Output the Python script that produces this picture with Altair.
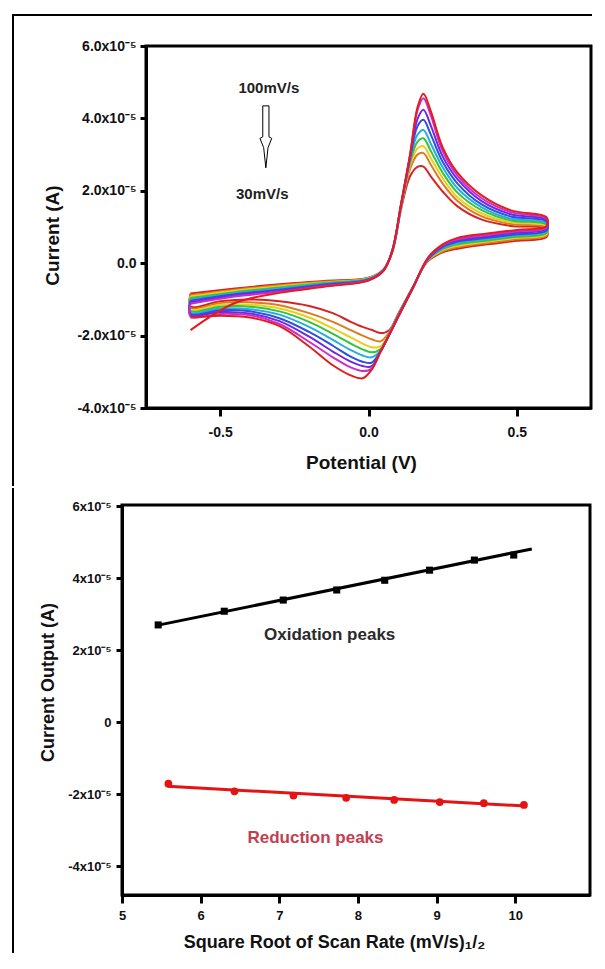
import altair as alt
import pandas as pd

FONT = "Liberation Sans"

# ---------------- Top panel: cyclic voltammograms (current in 1e-5 A) ----------------
CURVE_NAMES = ["c1", "c2", "c3", "c4", "c5", "c6", "c7", "c8", "c9"]
CURVE_COLORS = ["#d42424", "#e07a1e", "#e8cf1a", "#34c43a", "#22aee0",
                "#2c4fe4", "#6c2ade", "#cc2ccc", "#e41c1c"]

ANODIC_POTENTIAL = [-0.6, -0.45, -0.3, -0.15, 0.0, 0.05, 0.08, 0.11, 0.14, 0.165,
                    0.185, 0.21, 0.25, 0.30, 0.38, 0.48, 0.60]
CATHODIC_POTENTIAL = [0.6, 0.5, 0.4, 0.3, 0.25, 0.2, 0.15, 0.1, 0.07, 0.04, 0.01,
                      -0.02, -0.06, -0.12, -0.2, -0.3, -0.4, -0.5, -0.6]

ANODIC_C1 = [-0.84, -0.70, -0.58, -0.49, -0.40, -0.18, 0.30, 1.50, 2.40, 2.66, 2.67, 2.40, 1.98, 1.57, 1.21, 1.03, 0.95]
ANODIC_C2 = [-0.88, -0.73, -0.61, -0.51, -0.41, -0.18, 0.31, 1.55, 2.60, 3.00, 3.04, 2.72, 2.20, 1.72, 1.30, 1.08, 0.99]
ANODIC_C3 = [-0.92, -0.76, -0.64, -0.53, -0.42, -0.18, 0.32, 1.57, 2.70, 3.17, 3.23, 2.90, 2.35, 1.82, 1.38, 1.13, 1.03]
ANODIC_C4 = [-0.96, -0.80, -0.67, -0.55, -0.43, -0.19, 0.32, 1.59, 2.78, 3.35, 3.45, 3.10, 2.50, 1.95, 1.47, 1.18, 1.07]
ANODIC_C5 = [-1.00, -0.83, -0.70, -0.57, -0.44, -0.19, 0.33, 1.60, 2.85, 3.55, 3.68, 3.30, 2.65, 2.07, 1.55, 1.23, 1.11]
ANODIC_C6 = [-1.04, -0.86, -0.73, -0.59, -0.45, -0.20, 0.33, 1.62, 2.90, 3.78, 3.96, 3.55, 2.80, 2.20, 1.63, 1.29, 1.15]
ANODIC_C7 = [-1.08, -0.89, -0.76, -0.61, -0.46, -0.20, 0.34, 1.63, 2.95, 3.98, 4.24, 3.80, 2.95, 2.32, 1.72, 1.35, 1.19]
ANODIC_C8 = [-1.12, -0.92, -0.79, -0.63, -0.47, -0.21, 0.34, 1.64, 2.98, 4.22, 4.56, 4.08, 3.10, 2.42, 1.80, 1.41, 1.23]
ANODIC_C9 = [-1.85, -1.10, -0.82, -0.65, -0.48, -0.22, 0.35, 1.65, 3.00, 4.30, 4.68, 4.20, 3.20, 2.50, 1.88, 1.46, 1.27]

CATHODIC_C1 = [0.72, 0.62, 0.52, 0.40, 0.30, 0.05, -0.65, -1.40, -1.85, -1.93, -1.84, -1.76, -1.62, -1.38, -1.18, -1.05, -1.00, -1.05, -1.20]
CATHODIC_C2 = [0.76, 0.66, 0.56, 0.44, 0.33, 0.07, -0.66, -1.42, -1.90, -2.16, -2.10, -2.00, -1.85, -1.62, -1.38, -1.16, -1.08, -1.10, -1.24]
CATHODIC_C3 = [0.80, 0.70, 0.60, 0.48, 0.36, 0.08, -0.66, -1.43, -1.93, -2.30, -2.32, -2.22, -2.05, -1.80, -1.50, -1.25, -1.15, -1.15, -1.28]
CATHODIC_C4 = [0.83, 0.73, 0.63, 0.52, 0.39, 0.09, -0.66, -1.44, -1.95, -2.38, -2.46, -2.38, -2.22, -1.95, -1.62, -1.33, -1.20, -1.20, -1.32]
CATHODIC_C5 = [0.87, 0.77, 0.67, 0.56, 0.42, 0.10, -0.67, -1.45, -1.96, -2.42, -2.60, -2.55, -2.40, -2.12, -1.76, -1.42, -1.27, -1.25, -1.36]
CATHODIC_C6 = [0.90, 0.80, 0.70, 0.60, 0.45, 0.11, -0.67, -1.46, -1.97, -2.44, -2.75, -2.72, -2.58, -2.28, -1.90, -1.52, -1.33, -1.30, -1.40]
CATHODIC_C7 = [0.94, 0.84, 0.74, 0.63, 0.47, 0.12, -0.67, -1.47, -1.97, -2.44, -2.85, -2.84, -2.72, -2.44, -2.03, -1.60, -1.39, -1.35, -1.44]
CATHODIC_C8 = [0.98, 0.88, 0.78, 0.66, 0.50, 0.13, -0.68, -1.48, -1.98, -2.45, -2.92, -2.98, -2.88, -2.60, -2.17, -1.68, -1.44, -1.40, -1.48]
CATHODIC_C9 = [1.02, 0.92, 0.82, 0.70, 0.52, 0.15, -0.68, -1.49, -1.98, -2.46, -2.95, -3.18, -3.10, -2.82, -2.30, -1.74, -1.50, -1.45, -1.50]

CLOSED_LOOP = [True, True, True, True, True, True, True, True, False]

TOP_X_DOMAIN = [-0.75, 0.75]
TOP_Y_DOMAIN = [-4, 6]
TOP_X_TICKS = [-0.5, 0.0, 0.5]
TOP_X_LABELS = ["-0.5", "0.0", "0.5"]
TOP_Y_TICKS = [-4, -2, 0, 2, 4, 6]
TOP_Y_LABELS = ["-4.0x10\u207b\u2075", "-2.0x10\u207b\u2075", "0.0",
                "2.0x10\u207b\u2075", "4.0x10\u207b\u2075", "6.0x10\u207b\u2075"]

SCAN_TEXT = ["100mV/s", "30mV/s"]
SCAN_TEXT_X = [-0.336, -0.358]
SCAN_TEXT_Y = [4.85, 1.91]

# ---------------- Bottom panel: peak current vs sqrt(scan rate) ----------------
OX_X = [5.46, 6.30, 7.05, 7.73, 8.34, 8.91, 9.48, 9.98]
OX_Y = [2.70, 3.08, 3.39, 3.67, 3.94, 4.22, 4.50, 4.64]
RED_X = [5.59, 6.43, 7.18, 7.85, 8.46, 9.04, 9.60, 10.11]
RED_Y = [-1.71, -1.92, -2.04, -2.10, -2.16, -2.22, -2.25, -2.30]
OX_FIT_X = [5.43, 10.21]
OX_FIT_Y = [2.68, 4.81]
RED_FIT_X = [5.58, 10.13]
RED_FIT_Y = [-1.78, -2.33]

BOT_X_DOMAIN = [5, 10.95]
BOT_Y_DOMAIN = [-4.8, 6.03]
BOT_X_TICKS = [5, 6, 7, 8, 9, 10]
BOT_X_LABELS = ["5", "6", "7", "8", "9", "10"]
BOT_Y_TICKS = [-4, -2, 0, 2, 4, 6]
BOT_Y_LABELS = ["-4x10\u207b\u2075", "-2x10\u207b\u2075", "0",
                "2x10\u207b\u2075", "4x10\u207b\u2075", "6x10\u207b\u2075"]

PEAK_TEXT = ["Oxidation peaks", "Reduction peaks"]
PEAK_TEXT_X = [7.64, 7.46]
PEAK_TEXT_Y = [2.42, -3.22]
PEAK_TEXT_COLOR = ["#2a2a2a", "#c24052"]


def label_expr(values, labels):
    parts = [f"datum.value == {v} ? '{l}'" for v, l in zip(values, labels)]
    return " : ".join(parts) + " : ''"


def axis(values, labels, title, tick_size, label_pad, title_pad, label_size,
         title_size, offset=0, **extra):
    return alt.Axis(
        values=values, labelExpr=label_expr(values, labels), title=title,
        grid=False, domainColor="black", domainWidth=3, tickColor="black",
        tickWidth=3, tickSize=tick_size, labelPadding=label_pad, offset=offset,
        labelFont=FONT, labelFontSize=label_size, labelFontWeight="bold",
        labelColor="#111111", labelFlush=False, labelOverlap=False,
        titleFont=FONT, titleFontSize=title_size, titleFontWeight="bold",
        titleColor="#111111", titlePadding=title_pad, **extra)


def frame_rule(**enc):
    return alt.Chart(pd.DataFrame({"k": [0]})).mark_rule(
        color="black", strokeWidth=2).encode(**enc)


# build CV table
anodic = [ANODIC_C1, ANODIC_C2, ANODIC_C3, ANODIC_C4, ANODIC_C5, ANODIC_C6, ANODIC_C7, ANODIC_C8, ANODIC_C9]
cathodic = [CATHODIC_C1, CATHODIC_C2, CATHODIC_C3, CATHODIC_C4, CATHODIC_C5, CATHODIC_C6, CATHODIC_C7, CATHODIC_C8, CATHODIC_C9]
rows = []
for name, a, c, closed in zip(CURVE_NAMES, anodic, cathodic, CLOSED_LOOP):
    pts = list(zip(ANODIC_POTENTIAL, a)) + list(zip(CATHODIC_POTENTIAL, c))
    if closed:
        pts.append(pts[0])
    for i, (p, cur) in enumerate(pts):
        rows.append({"curve": name, "step": i, "potential": p, "current": cur})
cv_df = pd.DataFrame(rows)

# ---------------- top chart ----------------
top_x = alt.X("potential:Q", scale=alt.Scale(domain=TOP_X_DOMAIN, nice=False, zero=False),
              axis=axis(TOP_X_TICKS, TOP_X_LABELS, "Potential (V)", 8, 9, 14, 14, 19, titleX=215))
top_y = alt.Y("current:Q", scale=alt.Scale(domain=TOP_Y_DOMAIN, nice=False, zero=False),
              axis=axis(TOP_Y_TICKS, TOP_Y_LABELS, "Current (A)", 6, 4, 14, 14, 19, titleY=189))

top_border = alt.Chart(pd.DataFrame({"k": [0]})).mark_rect(
    fillOpacity=0, stroke="black", strokeWidth=3).encode(
    x=alt.datum(TOP_X_DOMAIN[0]), x2=alt.datum(TOP_X_DOMAIN[1]),
    y=alt.datum(TOP_Y_DOMAIN[0]), y2=alt.datum(TOP_Y_DOMAIN[1]))

cv = alt.Chart(cv_df).mark_line(interpolate="catmull-rom", strokeWidth=2).encode(
    x=top_x, y=top_y,
    color=alt.Color("curve:N", scale=alt.Scale(domain=CURVE_NAMES, range=CURVE_COLORS), legend=None),
    order="step:Q")

ann = alt.Chart(pd.DataFrame({"label": SCAN_TEXT, "potential": SCAN_TEXT_X, "current": SCAN_TEXT_Y})).mark_text(
    font=FONT, fontSize=15, fontWeight="bold", color="#222222").encode(
    x="potential:Q", y="current:Q", text="label:N")

ARROW_PATH = "M -0.1 -1 L 0.1 -1 L 0.1 0 L 0.19 0.05 L 0.07 0.35 L 0 1 L -0.07 0.35 L -0.19 0.05 L -0.1 0 Z"
arrow = alt.Chart(pd.DataFrame({"potential": [-0.346], "current": [3.49]})).mark_point(
    shape=ARROW_PATH, size=3844, filled=False, stroke="black", strokeWidth=1, opacity=1).encode(
    x="potential:Q", y="current:Q")

top = alt.layer(
    cv, top_border, arrow, ann,
    frame_rule(x=alt.value(-133), y=alt.value(-31), y2=alt.value(440)),
    frame_rule(x=alt.value(-134), x2=alt.value(446), y=alt.value(-31)),
).properties(width=445, height=362)

# ---------------- bottom chart (plot starts 24 px left of the top plot) ----------------
bot_x_scale = alt.Scale(domain=BOT_X_DOMAIN, nice=False, zero=False, range=[-24, 444])
bot_y_scale = alt.Scale(domain=BOT_Y_DOMAIN, nice=False, zero=False)
bot_x_axis = axis(BOT_X_TICKS, BOT_X_LABELS, "Square Root of Scan Rate (mV/s)\u2081/\u2082",
                  8, 6, 11, 13, 18, titleX=188)
bot_y_axis = axis(BOT_Y_TICKS, BOT_Y_LABELS, "Current Output (A)", 6, 5, 10, 13, 18,
                  offset=24, titleY=177)

bx = alt.X("x:Q", scale=bot_x_scale, axis=bot_x_axis)
by = alt.Y("y:Q", scale=bot_y_scale, axis=bot_y_axis)

bot_border = alt.Chart(pd.DataFrame({"k": [0]})).mark_rect(
    fillOpacity=0, stroke="black", strokeWidth=3).encode(
    x=alt.datum(BOT_X_DOMAIN[0]), x2=alt.datum(BOT_X_DOMAIN[1]),
    y=alt.datum(BOT_Y_DOMAIN[0]), y2=alt.datum(BOT_Y_DOMAIN[1]))

ox_line = alt.Chart(pd.DataFrame({"x": OX_FIT_X, "y": OX_FIT_Y})).mark_line(
    color="black", strokeWidth=3).encode(x=bx, y=by)
red_line = alt.Chart(pd.DataFrame({"x": RED_FIT_X, "y": RED_FIT_Y})).mark_line(
    color="#e41414", strokeWidth=3).encode(x="x:Q", y="y:Q")
ox_pts = alt.Chart(pd.DataFrame({"x": OX_X, "y": OX_Y})).mark_point(
    shape="square", filled=True, size=50, color="black", opacity=1).encode(x="x:Q", y="y:Q")
red_pts = alt.Chart(pd.DataFrame({"x": RED_X, "y": RED_Y})).mark_point(
    shape="circle", filled=True, size=60, color="#e41414", opacity=1).encode(x="x:Q", y="y:Q")

peak_txt = alt.Chart(pd.DataFrame({"label": PEAK_TEXT, "x": PEAK_TEXT_X, "y": PEAK_TEXT_Y,
                                   "c": PEAK_TEXT_COLOR})).mark_text(
    font=FONT, fontSize=17, fontWeight="bold").encode(
    x="x:Q", y="y:Q", text="label:N", color=alt.Color("c:N", scale=None))

bottom = alt.layer(
    ox_line, bot_border, red_line, ox_pts, red_pts, peak_txt,
    frame_rule(x=alt.value(-133), y=alt.value(-17), y2=alt.value(448)),
).properties(width=444, height=390)

chart = alt.vconcat(top, bottom, spacing=0).properties(
    padding={"left": 3, "top": 6, "right": -20, "bottom": 0}, background="white"
).configure_view(strokeOpacity=0)

chart.save("out.html", embed_options={"renderer": "svg", "actions": False})
